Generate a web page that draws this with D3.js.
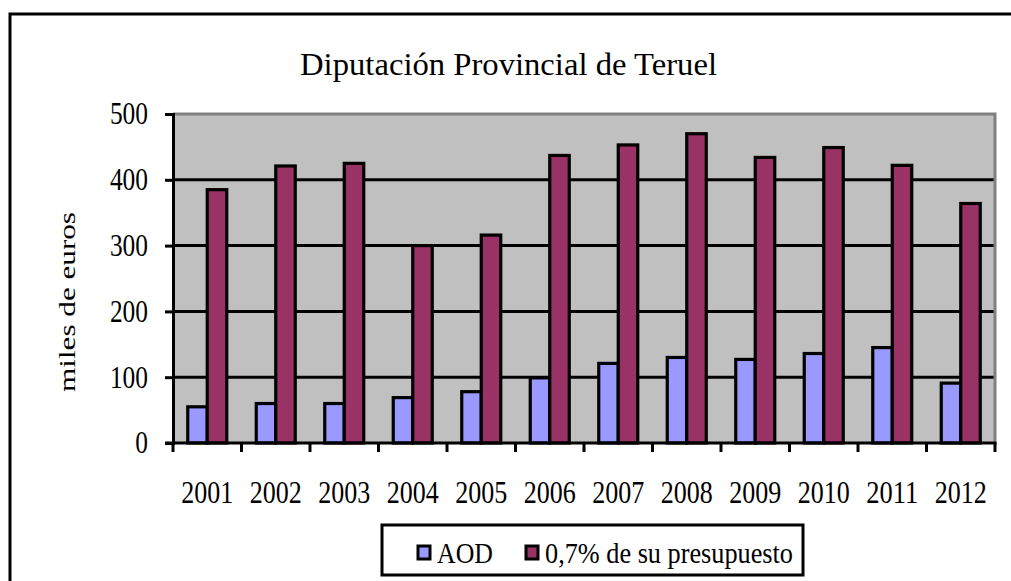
<!DOCTYPE html>
<html lang="es">
<head>
<meta charset="utf-8">
<title>Diputación Provincial de Teruel</title>
<script src="https://d3js.org/d3.v7.min.js"></script>
<style>
  body { margin: 0; background: #fff; }
</style>
</head>
<body>
<script>
// datos
var years = ["2001","2002","2003","2004","2005","2006","2007","2008","2009","2010","2011","2012"];
var aod = [55, 60, 60, 69, 78, 99, 121, 130, 127, 136, 145, 91];
var presupuesto = [385, 421, 425, 300, 316, 437, 453, 470, 434, 449, 422, 364];
var seriesNames = ["AOD", "0,7% de su presupuesto"];
var seriesColors = ["#9999FF", "#993366"];
var yTicks = [0, 100, 200, 300, 400, 500];

var FONT = "'Liberation Serif', 'Times New Roman', serif";
var W = 1011, H = 581;
var svg = d3.select("body").append("svg").attr("width", W).attr("height", H);

// marco exterior
svg.append("rect")
  .attr("x", 10).attr("y", 14)
  .attr("width", 1100).attr("height", 700)
  .attr("fill", "#fff").attr("stroke", "#000").attr("stroke-width", 3);

var pLeft = 173, pRight = 995, pTop = 114, pBottom = 443;

var x = d3.scaleBand().domain(years).range([pLeft, pRight]).padding(0);
var y = d3.scaleLinear().domain([0, 500]).range([pBottom, pTop]);
var xs = d3.scaleBand().domain(seriesNames).range([-19.5, 19.5]);

// fondo del area de trazado
svg.append("rect")
  .attr("x", pLeft).attr("y", pTop)
  .attr("width", pRight - pLeft).attr("height", pBottom - pTop)
  .attr("fill", "#C0C0C0");

// lineas de division
svg.selectAll("line.grid")
  .data(yTicks.filter(function(d){ return d > 0 && d < 500; }))
  .enter().append("line")
  .attr("x1", pLeft).attr("x2", pRight)
  .attr("y1", function(d){ return y(d); })
  .attr("y2", function(d){ return y(d); })
  .attr("stroke", "#000").attr("stroke-width", 3);

// borde gris superior y derecho
svg.append("path")
  .attr("d", "M" + pLeft + "," + y(500) + "H" + pRight + "V" + pBottom)
  .attr("fill", "none").attr("stroke", "#808080").attr("stroke-width", 3);

// barras
var data = years.map(function(yr, i){
  return { year: yr, values: [aod[i], presupuesto[i]] };
});

var groups = svg.selectAll("g.yr").data(data).enter().append("g")
  .attr("transform", function(d){ return "translate(" + (x(d.year) + x.bandwidth() / 2) + ",0)"; });

groups.selectAll("rect")
  .data(function(d){ return d.values.map(function(v, k){ return { s: seriesNames[k], v: v, k: k }; }); })
  .enter().append("rect")
  .attr("x", function(d){ return xs(d.s); })
  .attr("width", xs.bandwidth())
  .attr("y", function(d){ return y(d.v); })
  .attr("height", function(d){ return pBottom - y(d.v); })
  .attr("fill", function(d){ return seriesColors[d.k]; })
  .attr("stroke", "#000").attr("stroke-width", 3.2);

// eje Y
var yAxis = svg.append("g")
  .attr("transform", "translate(" + pLeft + ",0)")
  .call(d3.axisLeft(y).tickValues(yTicks).tickSize(8).tickPadding(17));
yAxis.select(".domain").attr("stroke", "#000").attr("stroke-width", 3);
yAxis.selectAll(".tick line").attr("stroke", "#000").attr("stroke-width", 3);
yAxis.selectAll(".tick text")
  .attr("font-size", 31)
  .attr("font-family", FONT)
  .attr("fill", "#000")
  .attr("textLength", function(d){ return String(d).length * 12.7; })
  .attr("lengthAdjust", "spacingAndGlyphs");

// eje X
svg.append("line")
  .attr("x1", pLeft - 8).attr("x2", pRight + 1.5)
  .attr("y1", pBottom).attr("y2", pBottom)
  .attr("stroke", "#000").attr("stroke-width", 3);

var bounds = years.map(function(d){ return x(d); }).concat([pRight]);
svg.selectAll("line.xtick").data(bounds).enter().append("line")
  .attr("x1", function(d){ return d; }).attr("x2", function(d){ return d; })
  .attr("y1", pBottom).attr("y2", pBottom + 9)
  .attr("stroke", "#000").attr("stroke-width", 3);

var xAxis = svg.append("g")
  .attr("transform", "translate(0," + pBottom + ")")
  .call(d3.axisBottom(x).tickSize(0).tickPadding(38));
xAxis.select(".domain").remove();
xAxis.selectAll(".tick text")
  .attr("font-size", 31)
  .attr("font-family", FONT)
  .attr("fill", "#000")
  .attr("textLength", 52)
  .attr("lengthAdjust", "spacingAndGlyphs");

// titulo
svg.append("text")
  .attr("x", 300).attr("y", 75)
  .attr("font-family", FONT)
  .attr("font-size", 32)
  .attr("textLength", 417)
  .attr("lengthAdjust", "spacingAndGlyphs")
  .text("Diputación Provincial de Teruel");

// titulo eje Y
svg.append("text")
  .attr("transform", "translate(75,302) rotate(-90)")
  .attr("text-anchor", "middle")
  .attr("font-family", FONT)
  .attr("font-size", 24)
  .attr("textLength", 180)
  .attr("lengthAdjust", "spacingAndGlyphs")
  .text("miles de euros");

// leyenda
var leg = svg.append("g");
leg.append("rect")
  .attr("x", 382).attr("y", 525)
  .attr("width", 421).attr("height", 50)
  .attr("fill", "#fff").attr("stroke", "#000").attr("stroke-width", 3);

var legX = [418, 526];
var legTextX = [437, 545];
var legTextW = [56, 248];
seriesNames.forEach(function(s, k){
  leg.append("rect")
    .attr("x", legX[k]).attr("y", 546)
    .attr("width", 12).attr("height", 13)
    .attr("fill", seriesColors[k]).attr("stroke", "#000").attr("stroke-width", 3);
  leg.append("text")
    .attr("x", legTextX[k]).attr("y", 563)
    .attr("font-family", FONT)
    .attr("font-size", 29)
    .attr("textLength", legTextW[k])
    .attr("lengthAdjust", "spacingAndGlyphs")
    .text(s);
});
</script>
</body>
</html>
